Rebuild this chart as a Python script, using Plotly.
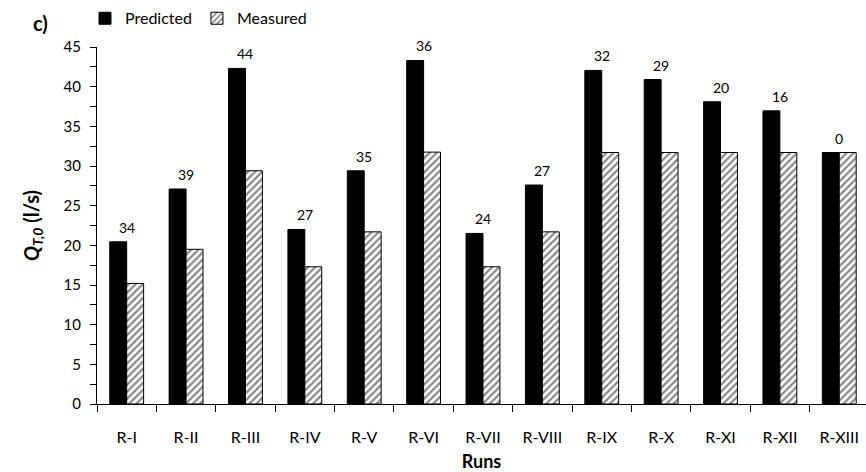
import plotly.graph_objects as go

runs = ["R-I", "R-II", "R-III", "R-IV", "R-V", "R-VI", "R-VII", "R-VIII",
        "R-IX", "R-X", "R-XI", "R-XII", "R-XIII"]
predicted = [20.45, 27.1, 42.3, 22.0, 29.4, 43.3, 21.5, 27.6, 42.05, 40.9, 38.1, 36.95, 31.7]
measured = [15.2, 19.5, 29.4, 17.3, 21.7, 31.75, 17.3, 21.7, 31.7, 31.7, 31.7, 31.7, 31.7]
diff_labels = ["34", "39", "44", "27", "35", "36", "24", "27", "32", "29", "20", "16", "0"]

FONT = "Lato, 'Open Sans', sans-serif"

fig = go.Figure()
fig.add_trace(go.Bar(
    x=runs, y=predicted, name="Predicted",
    marker=dict(color="black", line=dict(color="black", width=1)),
))
fig.add_trace(go.Bar(
    x=runs, y=measured, name="Measured",
    marker=dict(color="white", line=dict(color="black", width=1),
                pattern=dict(shape="/", fgcolor="#111111", bgcolor="white",
                             size=5, solidity=0.45)),
))

for r, p, lab in zip(runs, predicted, diff_labels):
    fig.add_annotation(x=r, y=p, text=lab, showarrow=False,
                       xref="x", yref="y", yanchor="bottom", yshift=4,
                       font=dict(family=FONT, size=14, color="black"))

fig.add_annotation(x=(40 - 97) / 769, y=(404.3 - 23) / 357.6,
                   xref="paper", yref="paper", text="<b>c)</b>",
                   showarrow=False, xanchor="center", yanchor="middle",
                   font=dict(family=FONT, size=20, color="black"))

fig.update_layout(
    width=866, height=472,
    margin=dict(l=97, r=0, t=47, b=68, pad=0),
    paper_bgcolor="white", plot_bgcolor="white",
    barmode="group", bargap=0.43, bargroupgap=0,
    font=dict(family=FONT, size=14, color="black"),
    showlegend=True,
    legend=dict(orientation="h", x=-12 / 769, xanchor="left",
                y=(404.3 - 18) / 357.6, yanchor="middle",
                font=dict(family=FONT, size=16, color="black"),
                itemwidth=30, tracegroupgap=0, bgcolor="rgba(0,0,0,0)"),
)

fig.update_xaxes(
    range=[-0.5, 12.45], showline=True, linecolor="black", linewidth=1,
    ticks="outside", tickson="boundaries", ticklen=7, tickcolor="black",
    ticklabelstandoff=19,
    showgrid=False, zeroline=False,
    tickfont=dict(family=FONT, size=16, color="black"),
    title=dict(text="<b>Runs</b>", font=dict(family=FONT, size=18, color="black"),
               standoff=10),
)
fig.update_yaxes(
    range=[0, 45], dtick=5, showline=True, linecolor="black", linewidth=1,
    ticks="outside", ticklen=6, tickcolor="black",
    minor=dict(dtick=2.5, ticks="outside", ticklen=6, tickcolor="black"),
    ticklabelstandoff=6,
    showgrid=False, zeroline=False,
    tickfont=dict(family=FONT, size=15, color="black"),
    title=dict(text="<b><i>Q</i><sub><i>T,0</i></sub> (l/s)</b>",
               font=dict(family=FONT, size=20, color="black"), standoff=18),
)

fig.write_html("out.html")
